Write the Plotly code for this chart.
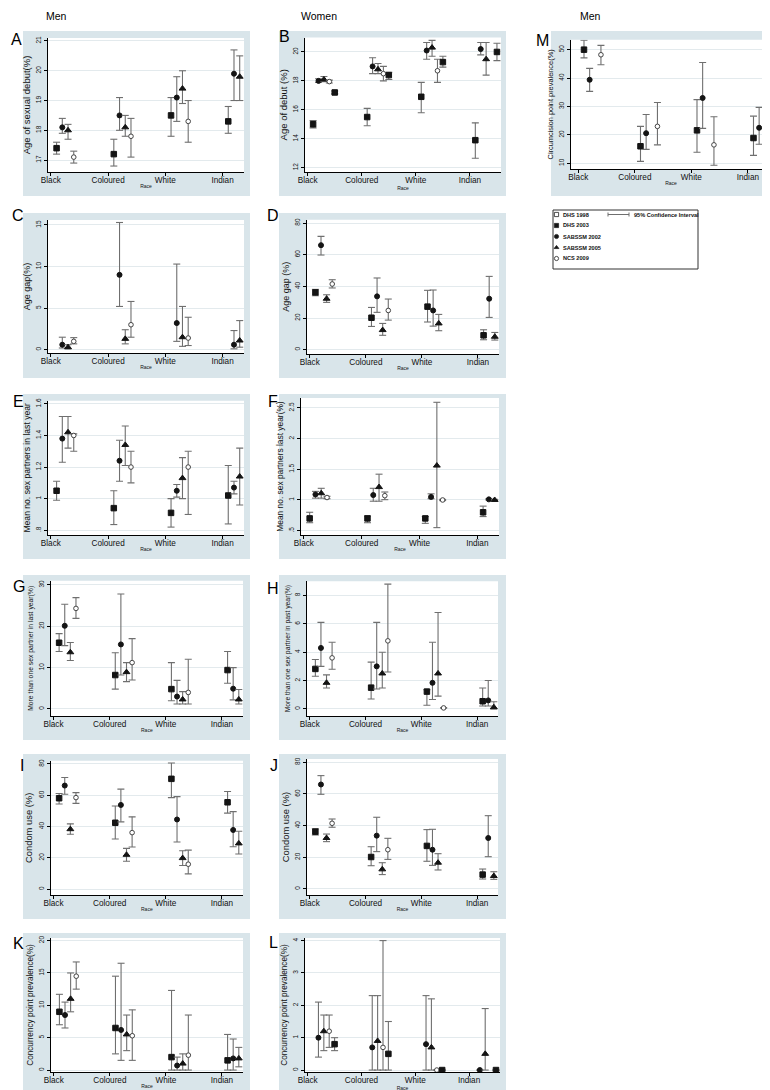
import plotly.graph_objects as go

W, H = 770, 1090
RACES = ["Black", "Coloured", "White", "Indian"]

# (estimate, lower 95% CI, upper 95% CI) for Black, Coloured, White, Indian
# None = not reported

# A - men, age of sexual debut
A_DHS03 = [(17.4, 17.2, 17.6), (17.2, 16.8, 17.7), (18.5, 17.8, 19.1), (18.3, 17.9, 18.8)]
A_SAB02 = [(18.1, 17.9, 18.4), (18.5, 18.0, 19.1), (19.1, 18.3, 19.8), (19.9, 19.0, 20.7)]
A_SAB05 = [(18.0, 17.7, 18.2), (18.1, 17.8, 18.5), (19.4, 18.9, 20.0), (19.8, 19.0, 20.5)]
A_NCS09 = [(17.1, 16.9, 17.3), (17.8, 17.1, 18.4), (18.3, 17.6, 19.0), None]

# B - women, age of debut
B_DHS03 = [(15.0, 14.75, 15.25), (15.5, 14.9, 16.1), (16.9, 15.8, 17.9), (13.9, 12.65, 15.1)]
B_SAB02 = [(18.0, 17.9, 18.15), (19.0, 18.5, 19.6), (20.1, 19.5, 20.65), (20.2, 19.8, 20.65)]
B_SAB05 = [(18.1, 17.95, 18.3), (18.8, 18.5, 19.2), (20.3, 19.7, 20.8), (19.5, 18.4, 20.65)]
B_NCS09 = [(17.95, 17.85, 18.05), (18.5, 18.0, 19.0), (18.7, 17.9, 19.5), None]
B_DHS98 = [(17.2, 17.1, 17.3), (18.4, 18.1, 18.6), (19.3, 18.95, 19.7), (20.0, 19.4, 20.6)]

# C - men, age gap
C_SAB02 = [(0.6, 0.2, 1.5), (9.0, 5.2, 15.3), (3.2, 1.0, 10.3), (0.6, 0.1, 2.3)]
C_SAB05 = [(0.3, 0.1, 0.6), (1.3, 0.7, 2.4), (1.5, 0.4, 5.2), (1.1, 0.3, 3.5)]
C_NCS09 = [(1.0, 0.7, 1.45), (3.0, 1.5, 5.8), (1.4, 0.5, 3.9), None]

# D - women, age gap
D_DHS03 = [(36.2, 34.1, 38.1), (20.2, 14.7, 26.7), (27.2, 17.5, 37.5), (9.1, 6.3, 12.6)]
D_SAB02 = [(66.0, 59.8, 71.6), (33.7, 23.6, 45.3), (24.8, 14.9, 37.7), (32.2, 20.4, 46.3)]
D_SAB05 = [(32.2, 29.9, 34.7), (12.4, 9.1, 16.6), (16.6, 12.0, 22.3), (8.2, 6.1, 10.9)]
D_NCS09 = [(41.5, 39.0, 44.2), (24.8, 18.7, 32.0), None, None]

# E - men, mean no. partners
E_DHS03 = [(1.05, 0.99, 1.11), (0.94, 0.836, 1.05), (0.91, 0.82, 1.0), (1.02, 0.84, 1.21)]
E_SAB02 = [(1.38, 1.23, 1.52), (1.24, 1.11, 1.37), (1.05, 1.01, 1.09), (1.07, 1.03, 1.11)]
E_SAB05 = [(1.42, 1.32, 1.52), (1.34, 1.21, 1.46), (1.13, 1.0, 1.26), (1.14, 0.96, 1.32)]
E_NCS09 = [(1.40, 1.30, 1.41), (1.20, 1.10, 1.30), (1.20, 0.90, 1.30), None]

# F - women, mean no. partners
F_DHS03 = [(0.70, 0.63, 0.80), (0.70, 0.63, 0.74), (0.70, 0.62, 0.73), (0.80, 0.73, 0.90)]
F_SAB02 = [(1.09, 1.03, 1.14), (1.08, 0.98, 1.19), (1.05, 1.02, 1.10), (1.01, 1.0, 1.02)]
F_SAB05 = [(1.11, 1.03, 1.19), (1.21, 0.98, 1.42), (1.56, 0.55, 2.59), (1.0, 0.99, 1.01)]
F_NCS09 = [(1.04, 1.02, 1.06), (1.07, 1.005, 1.13), (1.0, 0.99, 1.01), None]

# G - men, more than one partner
G_DHS03 = [(16.0, 13.9, 18.2), (8.2, 4.8, 13.6), (4.8, 2.0, 11.2), (9.4, 6.2, 13.9)]
G_SAB02 = [(20.1, 15.3, 25.3), (15.6, 8.2, 27.8), (3.0, 1.2, 6.9), (4.9, 2.2, 10.0)]
G_SAB05 = [(13.7, 11.7, 16.05), (8.9, 6.6, 11.2), (2.3, 1.2, 4.2), (2.3, 1.2, 4.7)]
G_NCS09 = [(24.3, 21.9, 26.9), (11.2, 7.0, 17.0), (4.0, 1.2, 12.0), None]

# H - women, more than one partner
H_DHS03 = [(2.82, 2.3, 3.48), (1.5, 0.7, 3.3), (1.22, 0.26, 1.35), (0.54, 0.2, 1.48)]
H_SAB02 = [(4.3, 3.0, 6.1), (3.0, 1.4, 6.1), (1.84, 0.66, 4.7), (0.6, 0.2, 2.0)]
H_SAB05 = [(1.84, 1.48, 2.4), (2.5, 1.48, 4.0), (2.5, 0.9, 6.8), (0.12, 0.0, 0.5)]
H_NCS09 = [(3.6, 2.8, 4.7), (4.8, 2.6, 8.8), (0.07, 0.07, 0.07), None]

# I - men, condom use
I_DHS03 = [(58.1, 54.4, 61.1), (42.4, 32.0, 53.1), (70.5, 58.5, 80.6), (55.5, 48.6, 62.4)]
I_SAB02 = [(66.2, 60.6, 71.4), (53.8, 43.0, 63.9), (44.5, 30.1, 59.1), (37.8, 27.1, 49.5)]
I_SAB05 = [(38.3, 35.1, 41.7), (21.9, 17.8, 26.0), (19.8, 15.1, 24.5), (29.2, 22.4, 37.0)]
I_NCS09 = [(58.5, 54.8, 61.7), (36.1, 26.9, 46.2), (15.9, 9.7, 24.9), None]

# J - women, condom use
J_DHS03 = [(36.2, 34.1, 38.1), (20.2, 14.7, 26.7), (27.2, 17.5, 37.5), (9.1, 6.3, 12.6)]
J_SAB02 = [(66.0, 59.8, 71.6), (33.7, 23.6, 45.3), (24.8, 14.9, 37.7), (32.2, 20.4, 46.3)]
J_SAB05 = [(32.2, 29.9, 34.7), (12.4, 9.1, 16.6), (16.6, 12.0, 22.3), (8.2, 6.1, 10.9)]
J_NCS09 = [(41.5, 39.0, 44.2), (24.8, 18.7, 32.0), None, None]

# K - men, concurrency
K_DHS03 = [(9.0, 7.0, 11.7), (6.5, 2.5, 14.5), (2.0, 0.0, 12.3), (1.5, 0.0, 5.5)]
K_SAB02 = [(8.5, 6.5, 10.5), (6.2, 1.5, 16.5), (0.7, 0.0, 2.0), (1.8, 0.0, 4.8)]
K_SAB05 = [(11.0, 9.0, 15.0), (5.5, 3.0, 8.5), (1.0, 0.0, 2.5), (1.8, 0.5, 3.5)]
K_NCS09 = [(14.5, 12.5, 16.7), (5.3, 1.5, 9.3), (2.3, 0.0, 8.5), None]

# L - women, concurrency
L_SAB02 = [(1.0, 0.4, 2.1), (0.7, 0.0, 2.3), (0.8, 0.0, 2.3), (0.0, 0.0, 0.0)]
L_SAB05 = [(1.2, 0.6, 1.7), (0.9, 0.0, 2.3), (0.7, 0.0, 2.2), (0.5, 0.0, 1.9)]
L_NCS09 = [(1.2, 0.7, 1.7), (0.7, 0.0, 4.0), (0.0, 0.0, 0.0), None]
L_DHS98 = [(0.8, 0.6, 1.0), (0.5, 0.0, 1.5), (0.0, 0.0, 0.0), (0.0, 0.0, 0.0)]

# M - men, circumcision
M_DHS03 = [(50.0, 47.1, 53.3), (16.0, 10.7, 23.0), (21.6, 13.9, 32.4), (18.9, 12.8, 26.6)]
M_SAB02 = [(39.4, 35.3, 43.4), (20.6, 14.9, 27.2), (33.0, 22.3, 45.5), (22.5, 16.7, 29.7)]
M_NCS09 = [(48.2, 44.7, 51.5), (23.0, 16.5, 31.4), (16.5, 9.3, 26.4), None]

FONT = "Liberation Sans, Arial, Helvetica, sans-serif"
BG = "#d9e5ea"
GRID = "#e3eaed"
CI_COL = "#6f6f6f"
DARK = "#141414"

SERIES = {
    "DHS 2003": dict(offset=0.1, symbol="square", size=5.5, fill=DARK, line=DARK),
    "SABSSM 2002": dict(offset=0.2, symbol="circle", size=5, fill=DARK, line=DARK),
    "SABSSM 2005": dict(offset=0.3, symbol="triangle-up", size=6, fill=DARK, line=DARK),
    "NCS 2009": dict(offset=0.4, symbol="circle", size=4.6, fill="white", line="#444"),
    "DHS 1998": dict(offset=0.5, symbol="square", size=5.5, fill=DARK, line=DARK),
}

COL_BG = {0: (15, 242), 1: (271, 498), 2: (543, 768)}

PANELS = [
    dict(letter="A", lpos=(8, 31), col=0, bg_top=23, box=(40, 30, 236, 164),
         ytitle="Age of sexual debut(%)", tsize=9.5, yrange=[16.6, 21.1], yticks=[17, 18, 19, 20, 21],
         data={"DHS 2003": A_DHS03, "SABSSM 2002": A_SAB02, "SABSSM 2005": A_SAB05, "NCS 2009": A_NCS09}),
    dict(letter="B", lpos=(276, 28), col=1, bg_top=23, box=(297, 29.5, 493, 164),
         ytitle="Age of debut (%)", tsize=9.5, yrange=[11.7, 21.0], yticks=[12, 14, 16, 18, 20],
         data={"DHS 2003": B_DHS03, "SABSSM 2002": B_SAB02, "SABSSM 2005": B_SAB05, "NCS 2009": B_NCS09,
               "DHS 1998": B_DHS98}),
    dict(letter="M", lpos=(534, 33), col=2, bg_top=23, box=(563, 31.7, 763, 161),
         ytitle="Circumcision point prevalence(%)", tsize=7.4, yrange=[8.0, 53.5], yticks=[10, 20, 30, 40, 50],
         xrange=[0.87, 4.41],
         data={"DHS 2003": M_DHS03, "SABSSM 2002": M_SAB02, "NCS 2009": M_NCS09}),
    dict(letter="C", lpos=(10, 207), col=0, bg_top=205, box=(40, 212, 236, 345),
         ytitle="Age gap(%)", tsize=9, yrange=[-0.4, 15.6], yticks=[0, 5, 10, 15],
         data={"SABSSM 2002": C_SAB02, "SABSSM 2005": C_SAB05, "NCS 2009": C_NCS09}),
    dict(letter="D", lpos=(265, 207), col=1, bg_top=205, box=(299, 211.7, 491, 346),
         ytitle="Age gap (%)", tsize=9, yrange=[-2.7, 82.1], yticks=[0, 20, 40, 60, 80],
         data={"DHS 2003": D_DHS03, "SABSSM 2002": D_SAB02, "SABSSM 2005": D_SAB05, "NCS 2009": D_NCS09}),
    dict(letter="E", lpos=(10, 393), col=0, bg_top=386, box=(40, 392.7, 236, 527),
         ytitle="Mean no. sex partners in last year", tsize=8.6, yrange=[0.77, 1.62],
         yticks=[0.8, 1.0, 1.2, 1.4, 1.6],
         data={"DHS 2003": E_DHS03, "SABSSM 2002": E_SAB02, "SABSSM 2005": E_SAB05, "NCS 2009": E_NCS09}),
    dict(letter="F", lpos=(265, 393), col=1, bg_top=386, box=(293, 390, 491, 527),
         ytitle="Mean no. sex partners last year(%)", tsize=8.4, yrange=[0.43, 2.66],
         yticks=[0.5, 1.0, 1.5, 2.0, 2.5],
         data={"DHS 2003": F_DHS03, "SABSSM 2002": F_SAB02, "SABSSM 2005": F_SAB05, "NCS 2009": F_NCS09}),
    dict(letter="G", lpos=(11, 579), col=0, bg_top=567, box=(42.7, 572.7, 235, 708),
         ytitle="More than one sex partner in last year(%)", tsize=6.8, yrange=[-1.7, 31], yticks=[0, 10, 20, 30],
         data={"DHS 2003": G_DHS03, "SABSSM 2002": G_SAB02, "SABSSM 2005": G_SAB05, "NCS 2009": G_NCS09}),
    dict(letter="H", lpos=(265, 580), col=1, bg_top=567, box=(299, 573.3, 490, 708),
         ytitle="More than one sex partner in past year(%)", tsize=6.8, yrange=[-0.5, 9.0], yticks=[0, 2, 4, 6, 8],
         data={"DHS 2003": H_DHS03, "SABSSM 2002": H_SAB02, "SABSSM 2005": H_SAB05, "NCS 2009": H_NCS09}),
    dict(letter="I", lpos=(14, 757), col=0, bg_top=746, box=(42.7, 752.7, 235, 887),
         ytitle="Condom use (%)", tsize=9.4, yrange=[-3.8, 82.1], yticks=[0, 20, 40, 60, 80],
         data={"DHS 2003": I_DHS03, "SABSSM 2002": I_SAB02, "SABSSM 2005": I_SAB05, "NCS 2009": I_NCS09}),
    dict(letter="J", lpos=(266, 757), col=1, bg_top=746, box=(299, 751, 490, 887),
         ytitle="Condom use (%)", tsize=9.4, yrange=[-3.8, 82.1], yticks=[0, 20, 40, 60, 80],
         data={"DHS 2003": J_DHS03, "SABSSM 2002": J_SAB02, "SABSSM 2005": J_SAB05, "NCS 2009": J_NCS09}),
    dict(letter="K", lpos=(10, 935), col=0, bg_top=925, box=(43, 930, 235, 1064),
         ytitle="Concurrency point prevalence(%)", tsize=8.2, yrange=[-0.3, 20.4], yticks=[0, 5, 10, 15, 20],
         data={"DHS 2003": K_DHS03, "SABSSM 2002": K_SAB02, "SABSSM 2005": K_SAB05, "NCS 2009": K_NCS09}),
    dict(letter="L", lpos=(265, 934), col=1, bg_top=925, box=(297, 930, 492, 1064),
         ytitle="Concurrency point prevalence(%)", tsize=8.2, yrange=[-0.06, 4.08], yticks=[0, 1, 2, 3, 4],
         data={"SABSSM 2002": L_SAB02, "SABSSM 2005": L_SAB05, "NCS 2009": L_NCS09, "DHS 1998": L_DHS98}),
]


def stata(v):
    s = f"{v:g}"
    return s[1:] if s.startswith("0.") else s


fig = go.Figure()
shapes = []
annotations = []
axes = {}

for i, p in enumerate(PANELS, start=1):
    xa, ya = f"x{i}", f"y{i}"
    l, t, r, b = p["box"]
    bl, br = COL_BG[p["col"]]
    top = p["bg_top"]
    shapes.append(dict(type="rect", xref="paper", yref="paper", layer="below",
                       x0=bl / W, x1=br / W, y0=max(0, 1 - (top + 165) / H), y1=1 - top / H,
                       fillcolor=BG, line_width=0))
    shapes.append(dict(type="rect", xref="paper", yref="paper", layer="below",
                       x0=l / W, x1=r / W, y0=1 - b / H, y1=1 - t / H,
                       fillcolor="white", line_width=0))

    xmax = 0
    for name, rows in p["data"].items():
        st = SERIES[name]
        xs, ys, ex, ey = [], [], [], []
        for k, row in enumerate(rows):
            if row is None:
                continue
            est, lo, hi = row
            xv = k + 1 + st["offset"]
            xs.append(xv)
            ys.append(est)
            ex += [xv, xv, None]
            ey += [lo, hi, None]
        xmax = max(xmax, max(xs))
        # confidence interval whiskers with caps
        fig.add_trace(go.Scatter(
            x=ex, y=ey, xaxis=xa, yaxis=ya, mode="lines+markers",
            line=dict(color=CI_COL, width=1.1),
            marker=dict(symbol="line-ew", size=5, line=dict(color=CI_COL, width=1.1)),
            showlegend=False, hoverinfo="skip",
        ))
        # point estimates
        fig.add_trace(go.Scatter(
            x=xs, y=ys, xaxis=xa, yaxis=ya, mode="markers", name=name,
            marker=dict(symbol=st["symbol"], size=st["size"], color=st["fill"],
                        line=dict(color=st["line"], width=1)),
            showlegend=False, hoverinfo="skip",
        ))

    axes[f"xaxis{i}"] = dict(
        type="linear", domain=[l / W, r / W], range=p.get("xrange", [0.95, xmax + 0.075]), anchor=ya,
        tickvals=[1, 2, 3, 4], ticktext=RACES, tickfont=dict(size=8.2, color="#111"),
        showgrid=False, zeroline=False, showline=True, linecolor="black", linewidth=1,
        ticks="outside", ticklen=3, tickcolor="black", automargin=False, ticklabelstandoff=-3,
        title=dict(text="Race", font=dict(size=5, color="#111"), standoff=0),
    )
    axes[f"yaxis{i}"] = dict(
        type="linear", domain=[1 - b / H, 1 - t / H], range=p["yrange"], anchor=xa,
        tickvals=p["yticks"], ticktext=[stata(v) for v in p["yticks"]],
        tickangle=-90, tickfont=dict(size=6.5, color="#111"),
        showgrid=True, gridcolor=GRID, gridwidth=1, zeroline=False,
        showline=True, linecolor="black", linewidth=1,
        ticks="outside", ticklen=3, tickcolor="black", automargin=False,
        title=dict(text=p["ytitle"], font=dict(size=p["tsize"], color="#111"), standoff=3),
    )
    annotations.append(dict(text=p["letter"], xref="paper", yref="paper",
                            x=p["lpos"][0] / W, y=1 - p["lpos"][1] / H,
                            xanchor="center", yanchor="middle", showarrow=False,
                            font=dict(size=16, color="black")))

# column headings
for text, cx in [("Men", 48), ("Women", 311), ("Men", 582)]:
    annotations.append(dict(text=text, xref="paper", yref="paper", x=cx / W, y=1 - 8 / H,
                            xanchor="center", yanchor="middle", showarrow=False,
                            font=dict(size=10.5, color="black")))

# legend box (drawn on a pixel-scaled overlay axis)
LEG = [("DHS 1998", "square", "white"), ("DHS 2003", "square", DARK),
       ("SABSSM 2002", "circle", DARK), ("SABSSM 2005", "triangle-up", DARK),
       ("NCS 2009", "circle", "white")]
n = len(PANELS) + 1
lx, ly = f"x{n}", f"y{n}"
axes[f"xaxis{n}"] = dict(domain=[0, 1], range=[0, W], visible=False, fixedrange=True, anchor=ly)
axes[f"yaxis{n}"] = dict(domain=[0, 1], range=[H, 0], visible=False, fixedrange=True, anchor=lx)
shapes.append(dict(type="rect", xref="paper", yref="paper", x0=545 / W, x1=690 / W, layer="below",
                   y0=1 - 261 / H, y1=1 - 202 / H, line=dict(color="#333", width=1), fillcolor="white"))
for j, (label, sym, fill) in enumerate(LEG):
    yy = 206.5 + j * 11
    fig.add_trace(go.Scatter(x=[548.5], y=[yy], xaxis=lx, yaxis=ly, mode="markers",
                             marker=dict(symbol=sym, size=4.2, color=fill, line=dict(color="#222", width=0.8)),
                             showlegend=False, hoverinfo="skip"))
    annotations.append(dict(text=f"<b>{label}</b>", xref="paper", yref="paper",
                            x=553 / W, y=1 - yy / H, xanchor="left", yanchor="middle",
                            showarrow=False, font=dict(size=5.6, color="#111")))
# confidence interval key
for x0, y0, x1, y1 in [(600, 206.5, 621, 206.5), (600, 204.5, 600, 208.5), (621, 204.5, 621, 208.5)]:
    shapes.append(dict(type="line", xref="paper", yref="paper", x0=x0 / W, x1=x1 / W,
                       y0=1 - y0 / H, y1=1 - y1 / H, line=dict(color=CI_COL, width=1)))
annotations.append(dict(text="<b>95% Confidence Interval</b>", xref="paper", yref="paper",
                        x=624 / W, y=1 - 206.5 / H, xanchor="left", yanchor="middle",
                        showarrow=False, font=dict(size=5.6, color="#111")))

fig.update_layout(
    template="none", width=W, height=H, margin=dict(l=0, r=0, t=0, b=0),
    paper_bgcolor="white", plot_bgcolor="rgba(0,0,0,0)",
    font=dict(family=FONT, color="black"), showlegend=False,
    shapes=shapes, annotations=annotations, **axes,
)

fig.write_html("out.html")
